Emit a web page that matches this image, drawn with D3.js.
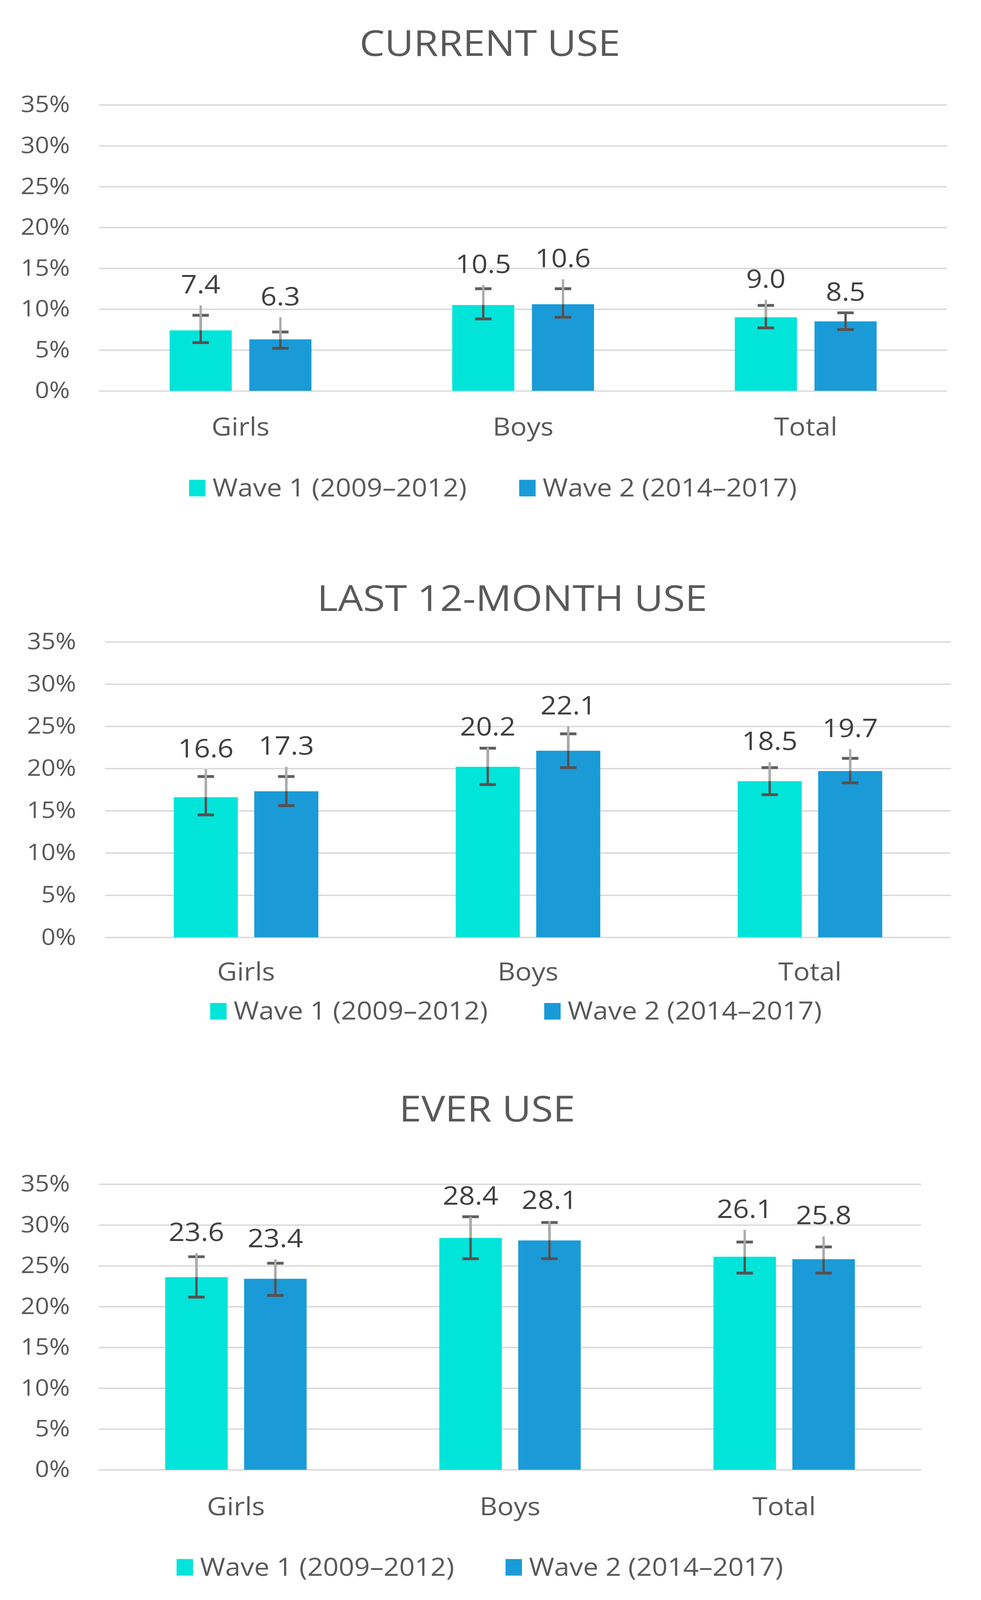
<!DOCTYPE html>
<html>
<head>
<meta charset="utf-8">
<script src="https://cdn.jsdelivr.net/npm/d3@7"></script>
<style>
  html, body { margin: 0; padding: 0; background: #fff; overflow: hidden; }
  svg { display: block; font-family: "Open Sans", "Noto Sans", sans-serif; }
</style>
</head>
<body>
<svg id="chart"></svg>
<script>
const categories = ["Girls", "Boys", "Total"];
const waves = ["Wave 1 (2009\u20132012)", "Wave 2 (2014\u20132017)"];
const titles = ["CURRENT USE", "LAST 12-MONTH USE", "EVER USE"];
const yTicks = [0, 5, 10, 15, 20, 25, 30, 35];

// current use
const currentW1 = [7.4, 10.5, 9.0];
const currentW2 = [6.3, 10.6, 8.5];
const currentW1Lo = [5.9, 8.8, 7.7];
const currentW1Hi = [9.25, 12.5, 10.45];
const currentW1Grey = [10.45, 12.95, 11.15];
const currentW2Lo = [5.2, 9.0, 7.5];
const currentW2Hi = [7.2, 12.5, 9.55];
const currentW2Grey = [9.0, 13.65, null];

// last 12-month use
const last12W1 = [16.6, 20.2, 18.5];
const last12W2 = [17.3, 22.1, 19.7];
const last12W1Lo = [14.5, 18.1, 16.9];
const last12W1Hi = [19.05, 22.4, 20.1];
const last12W1Grey = [19.9, 22.5, 20.75];
const last12W2Lo = [15.6, 20.1, 18.3];
const last12W2Hi = [19.05, 24.1, 21.2];
const last12W2Grey = [20.2, 25.0, 22.3];

// ever use
const everW1 = [23.6, 28.4, 26.1];
const everW2 = [23.4, 28.1, 25.8];
const everW1Lo = [21.15, 25.85, 24.1];
const everW1Hi = [26.1, 31.0, 27.9];
const everW1Grey = [26.55, 31.0, 29.4];
const everW2Lo = [21.35, 25.85, 24.1];
const everW2Hi = [25.3, 30.3, 27.3];
const everW2Grey = [25.8, 30.5, 28.6];

const colors = ["#00e4da", "#1a9bd7"];
const textColor = "#595959";

const width = 2511;
const height = 4532;

// layout of the three panels
const panels = [
  { title: titles[0], titleX: 1254, titleY: 158, left: 254, right: 2424, bottom: 1107, top: 297,
    tickRight: 179, catY: 1234, legendY: 1406, legendX: [484, 1329], barW: 159, gap: 45,
    values: [currentW1, currentW2], lo: [currentW1Lo, currentW2Lo], hi: [currentW1Hi, currentW2Hi],
    grey: [currentW1Grey, currentW2Grey] },
  { title: titles[1], titleX: 1311, titleY: 1731, left: 269, right: 2434, bottom: 2655, top: 1818,
    tickRight: 195, catY: 2777, legendY: 2888, legendX: [538, 1393], barW: 164, gap: 42,
    values: [last12W1, last12W2], lo: [last12W1Lo, last12W2Lo], hi: [last12W1Hi, last12W2Hi],
    grey: [last12W1Grey, last12W2Grey] },
  { title: titles[2], titleX: 1247, titleY: 3177, left: 253, right: 2358, bottom: 4163, top: 3354,
    tickRight: 179, catY: 4292, legendY: 4463, legendX: [452, 1294], barW: 160, gap: 42,
    values: [everW1, everW2], lo: [everW1Lo, everW2Lo], hi: [everW1Hi, everW2Hi],
    grey: [everW1Grey, everW2Grey] }
];

// the window can be shorter than the chart, so fit the drawing into it
const viewH = Math.min(height, window.innerHeight || height);
const svg = d3.select("#chart")
  .attr("width", width)
  .attr("height", viewH)
  .attr("viewBox", `0 0 ${width} ${height}`)
  .attr("preserveAspectRatio", "none");

panels.forEach((p) => {
  const g = svg.append("g");

  const x0 = d3.scaleBand().domain(categories).range([p.left, p.right]);
  const band = x0.bandwidth();
  const pair = 2 * p.barW + p.gap;
  const x1 = d3
    .scaleBand()
    .domain([0, 1])
    .range([(band - pair) / 2, (band + pair) / 2])
    .paddingInner(p.gap / (p.barW + p.gap));
  const y = d3.scaleLinear().domain([0, 35]).range([p.bottom, p.top]);

  // title
  g.append("text")
    .attr("x", p.titleX)
    .attr("y", p.titleY)
    .attr("text-anchor", "middle")
    .attr("font-size", 102)
    .attr("fill", textColor)
    .text(p.title);

  // gridlines
  const grid = g
    .append("g")
    .attr("transform", `translate(${p.left},0)`)
    .call(d3.axisLeft(y).tickValues(yTicks).tickSize(-(p.right - p.left)).tickFormat(""));
  grid.select(".domain").remove();
  grid.selectAll("line").attr("stroke", "#d9d9d9").attr("stroke-width", 4);

  // y labels
  const yAxis = g
    .append("g")
    .attr("transform", `translate(${p.left},0)`)
    .call(
      d3.axisLeft(y)
        .tickValues(yTicks)
        .tickSize(0)
        .tickPadding(p.left - p.tickRight)
        .tickFormat((d) => d + "%")
    );
  yAxis.select(".domain").remove();
  yAxis.selectAll("text")
    .attr("font-size", 64)
    .attr("font-family", "Open Sans, Noto Sans, sans-serif")
    .attr("fill", textColor);

  // category labels
  const xAxis = g
    .append("g")
    .attr("transform", `translate(0,${p.bottom})`)
    .call(d3.axisBottom(x0).tickSize(0));
  xAxis.select(".domain").remove();
  xAxis.selectAll("text")
    .attr("y", p.catY - p.bottom)
    .attr("dy", null)
    .attr("font-size", 70)
    .attr("font-family", "Open Sans, Noto Sans, sans-serif")
    .attr("fill", textColor);

  // one row per bar
  const rows = [];
  categories.forEach((c, i) => {
    [0, 1].forEach((w) => {
      rows.push({
        cat: c, wave: w, v: p.values[w][i], lo: p.lo[w][i], hi: p.hi[w][i], grey: p.grey[w][i]
      });
    });
  });

  g.append("g")
    .selectAll("rect")
    .data(rows)
    .join("rect")
    .attr("x", (d) => x0(d.cat) + x1(d.wave))
    .attr("width", x1.bandwidth())
    .attr("y", (d) => y(d.v))
    .attr("height", (d) => y(0) - y(d.v))
    .attr("fill", (d) => colors[d.wave]);

  const cx = (d) => x0(d.cat) + x1(d.wave) + x1.bandwidth() / 2;
  const capW = 21;
  const dark = "#5a4e4e";

  // dark error bars
  const eb = g.append("g").selectAll("g").data(rows).join("g");
  eb.append("line")
    .attr("x1", cx).attr("x2", cx)
    .attr("y1", (d) => y(d.lo)).attr("y2", (d) => y(d.hi))
    .attr("stroke", dark).attr("stroke-width", 6);
  eb.append("line")
    .attr("x1", (d) => cx(d) - capW).attr("x2", (d) => cx(d) + capW)
    .attr("y1", (d) => y(d.lo)).attr("y2", (d) => y(d.lo))
    .attr("stroke", dark).attr("stroke-width", 8);
  eb.append("line")
    .attr("x1", (d) => cx(d) - capW).attr("x2", (d) => cx(d) + capW)
    .attr("y1", (d) => y(d.hi)).attr("y2", (d) => y(d.hi))
    .attr("stroke", "#5f5f5f").attr("stroke-width", 8);

  // grey upper error lines
  g.append("g")
    .selectAll("line")
    .data(rows.filter((d) => d.grey !== null))
    .join("line")
    .attr("x1", cx).attr("x2", cx)
    .attr("y1", (d) => y(d.v)).attr("y2", (d) => y(d.grey))
    .attr("stroke", "#ababab").attr("stroke-width", 6);

  // value labels, just above the highest whisker
  g.append("g")
    .selectAll("text")
    .data(rows)
    .join("text")
    .attr("x", cx)
    .attr("y", (d) => y(Math.max(d.hi, d.grey === null ? 0 : d.grey)) - 34)
    .attr("text-anchor", "middle")
    .attr("font-size", 72)
    .attr("fill", "#404040")
    .text((d) => d.v.toFixed(1));

  // legend
  const legend = g.append("g")
    .selectAll("g")
    .data(waves)
    .join("g")
    .attr("transform", (d, i) => `translate(${p.legendX[i]},${p.legendY})`);
  legend.append("rect")
    .attr("x", 0).attr("y", -47)
    .attr("width", 42).attr("height", 47)
    .attr("fill", (d, i) => colors[i]);
  legend.append("text")
    .attr("x", 60).attr("y", 0)
    .attr("font-size", 70)
    .attr("fill", textColor)
    .text((d) => d);
});
</script>
</body>
</html>
